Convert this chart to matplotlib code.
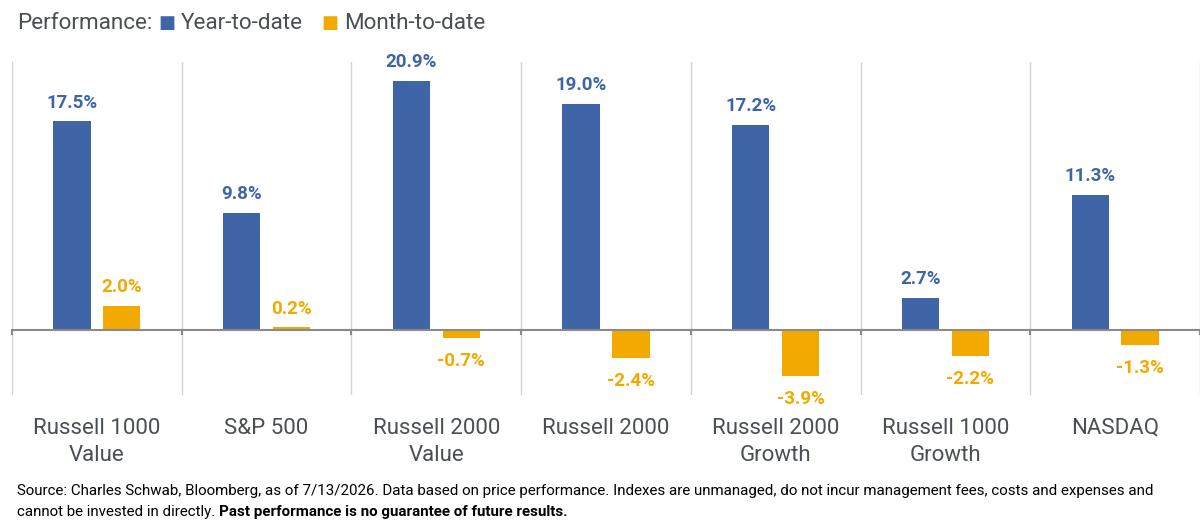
import matplotlib.pyplot as plt
import numpy as np

categories = ['Russell 1000\nValue', 'S&P 500', 'Russell 2000\nValue', 'Russell 2000',
              'Russell 2000\nGrowth', 'Russell 1000\nGrowth', 'NASDAQ']
ytd = [17.5, 9.8, 20.9, 19.0, 17.2, 2.7, 11.3]
mtd = [2.0, 0.2, -0.7, -2.4, -3.9, -2.2, -1.3]

blue = '#3f65a7'
orange = '#f2a900'
grey_text = '#4a4f55'

plt.rcParams['font.family'] = ['Roboto', 'DejaVu Sans']

fig = plt.figure(figsize=(12, 5.29), dpi=100)
ax = fig.add_axes([0.01, 0.253, 0.99, 0.63])

x = np.arange(len(categories))
w = 0.22
off = 0.147
ax.bar(x - off, ytd, w, color=blue)
ax.bar(x + off, mtd, w, color=orange)

for xi, v in zip(x, ytd):
    ax.annotate(f'{v:.1f}%', (xi - off, v), xytext=(0, 7), textcoords='offset points',
                ha='center', va='bottom', color=blue, fontsize=13.5, fontweight='bold')
for xi, v in zip(x, mtd):
    dy = 7 if v >= 0 else -10
    ax.annotate(f'{v:.1f}%', (xi + off, v), xytext=(0, dy), textcoords='offset points',
                ha='center', va='bottom' if v >= 0 else 'top', color=orange,
                fontsize=13.5, fontweight='bold')

ax.set_xlim(-0.5, len(categories) - 0.5)
ax.set_ylim(-5.5, 22.5)
for b in np.arange(-0.5, len(categories), 1.0):
    ax.axvline(b, color='#d4d4d4', lw=1, zorder=0)
ax.axhline(0, color='#8a8a8a', lw=1.5, zorder=3)
for b in np.arange(-0.5, len(categories), 1.0):
    ax.plot([b, b], [0, -0.35], color='#8a8a8a', lw=1.5, zorder=3, clip_on=False)

for s in ax.spines.values():
    s.set_visible(False)
ax.set_yticks([])
ax.set_xticks([])
for xi, c in zip(x, categories):
    ax.text(xi, -7.4, c, ha='center', va='top', fontsize=16, color=grey_text,
            linespacing=1.4)

# legend, laid out left to right
fig.canvas.draw()
W = fig.bbox.width
ly = 0.956
items = [('Performance:', grey_text, 16.2, 6),
         ('■', blue, 13, 6),
         ('Year-to-date', grey_text, 16.2, 18),
         ('■', orange, 13, 6),
         ('Month-to-date', grey_text, 16.2, 0)]
xpos = 17
for txt, col, fs, gap in items:
    t = fig.text(xpos / W, ly, txt, fontsize=fs, color=col, va='center')
    fig.canvas.draw()
    xpos = t.get_window_extent().x1 + gap

fig.text(0.014, 0.072, 'Source: Charles Schwab, Bloomberg, as of 7/13/2026. Data based on price performance. '
         'Indexes are unmanaged, do not incur management fees, costs and expenses and',
         fontsize=10.9, color='black', va='center')
t1 = fig.text(0.014, 0.033, 'cannot be invested in directly. ', fontsize=10.9, color='black',
              va='center')
fig.canvas.draw()
bb = t1.get_window_extent()
fig.text(bb.x1 / W, 0.033, 'Past performance is no guarantee of future results.',
         fontsize=10.9, color='black', va='center', fontweight='bold')

fig.savefig('out.png', dpi=100, facecolor='white')
